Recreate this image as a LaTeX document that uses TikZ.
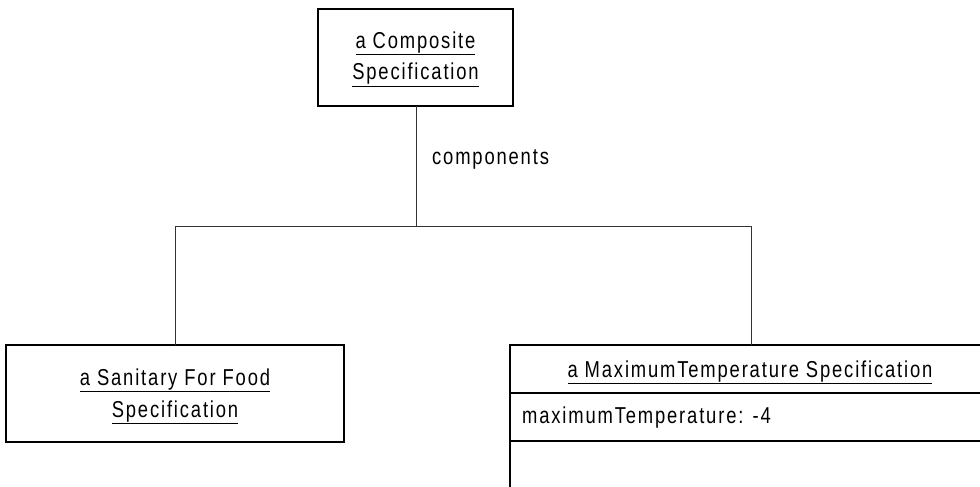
\documentclass[tikz,border=0pt]{standalone}
\usepackage{fontspec}
\setmainfont{Liberation Sans}[FakeStretch=0.8,LetterSpace=8]
\begin{document}
\begin{tikzpicture}[x=1pt,y=-1pt,
  box/.style={draw=black,line width=2pt,fill=white},
  conn/.style={draw=black!80,line width=1pt},
  lbl/.style={font=\fontsize{23}{32}\selectfont,inner sep=0pt}]
\useasboundingbox (0,0) rectangle (980,487);
\clip (0,0) rectangle (980,487);
% boxes
\draw[box] (318,9) rectangle (513,106);
\coordinate (topB) at (416,106);
\draw[box] (6,345) rectangle (344,442);
\coordinate (leftT) at (175,345);
\draw[box] (510,345) rectangle (995,500);
\draw[line width=2pt] (510,393) -- (995,393);
\draw[line width=2pt] (510,441) -- (995,441);
\coordinate (rightT) at (751,345);
% texts
\node[lbl,align=center,anchor=base] (comp) at (415.5,80) {\underline{a Composite}\\\underline{Specification}};
\node[lbl,align=center,anchor=base] (sani) at (175,417) {\underline{a Sanitary For Food}\\\underline{Specification}};
\node[lbl,anchor=base] (maxt) at (750,377) {\underline{a MaximumTemperature Specification}};
\node[lbl,anchor=base west] (attr) at (522,423) {maximumTemperature: -4};
% connectors
\coordinate (j) at (416,226);
\coordinate (jl) at (175,226);
\coordinate (jr) at (751,226);
\draw[conn] (topB) -- (j);
\draw[conn] (jl) -- (jr);
\draw[conn] (jl) -- (leftT);
\draw[conn] (jr) -- (rightT);
\node[lbl,anchor=base west] (clab) at (432,164) {components};
\end{tikzpicture}
\end{document}
